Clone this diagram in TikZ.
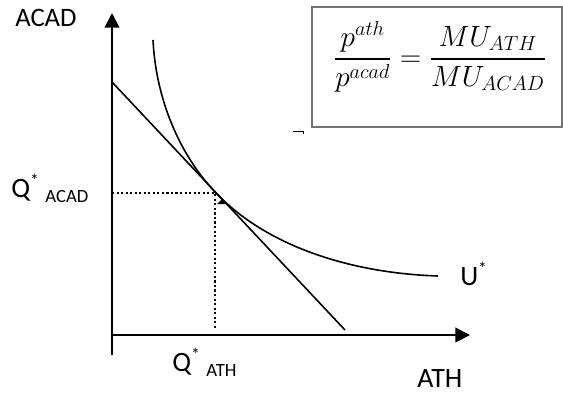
\documentclass[tikz,border=0pt]{standalone}
\usepackage{amsmath}
\usepackage{fontspec}
\setmainfont{Carlito}
\usepackage{tikz}
\usetikzlibrary{arrows.meta, positioning}
\tikzset{
  axis/.style={line width=1.5pt, -{Triangle[length=11pt, width=11pt]}},
  curve/.style={line width=1.2pt},
  guide/.style={line width=1.6pt, dash pattern=on 1.6pt off 1.8pt},
  lbl/.style={anchor=base west, inner sep=0pt},
  eqbox/.style={draw=black!55, line width=1.1pt},
}
\newcommand{\qsub}[1]{\raisebox{-4pt}{\fontsize{14}{16}\selectfont #1}}
\newcommand{\qstar}{\raisebox{8pt}{\fontsize{13}{14}\selectfont *}}

\begin{document}
\begin{tikzpicture}[x=0.75pt, y=-0.75pt]
  \useasboundingbox (0,0) rectangle (563,393);

  % Axes
  \coordinate (O) at (112,335);
  \coordinate (ytop) at (112,13);
  \coordinate (ybot) at (112,355);
  \coordinate (xend) at (470,335);
  \draw[axis] (ybot) -- (ytop);
  \draw[axis] (O) -- (xend);

  % Budget line
  \coordinate (bA) at (112,82);
  \coordinate (bB) at (345,330);
  \draw[curve] (bA) -- (bB);

  % Indifference curve
  \coordinate (uA) at (153,40);
  \coordinate (T) at (215,192);
  \coordinate (uB) at (438,276);
  \draw[curve] (uA) .. controls (156,100) and (180,155) .. (T)
                    .. controls (265,245) and (348,273) .. (uB);

  % Optimum
  \coordinate (qy) at (112,193);
  \coordinate (qx) at (215,330);
  \coordinate (opt) at (215,193);
  \draw[guide] (qy) -- (opt) -- (qx);
  \fill (217,204) -- (222,199) -- (227,204) -- cycle;

  % Labels
  \node[lbl, font=\fontsize{20}{24}\selectfont] (acad) at (15,26) {ACAD};
  \node[lbl, font=\fontsize{21}{24}\selectfont] (ath) at (417,387) {ATH};
  \node[lbl, font=\fontsize{21}{24}\selectfont] (qacad) at (11,197) {Q\qstar\hspace{5pt}\qsub{ACAD}};
  \node[lbl, font=\fontsize{21}{24}\selectfont] (qath) at (172,371) {Q\qstar\hspace{5pt}\qsub{ATH}};
  \node[lbl, font=\fontsize{21}{24}\selectfont] (ustar) at (460,285) {U\qstar};

  % Tangency condition
  \draw[eqbox] (312,7) rectangle (562,127);
  \node[inner sep=0pt, font=\fontsize{20.74}{25}\selectfont] (cond) at (440,57)
    {\scalebox{1.06}{$\dfrac{p^{ath}}{p^{acad}} = \dfrac{MU_{ATH}}{MU_{ACAD}}$}};
  \draw[line width=0.6pt] (293,131) -- (303,131) -- (303,134);
\end{tikzpicture}
\end{document}
